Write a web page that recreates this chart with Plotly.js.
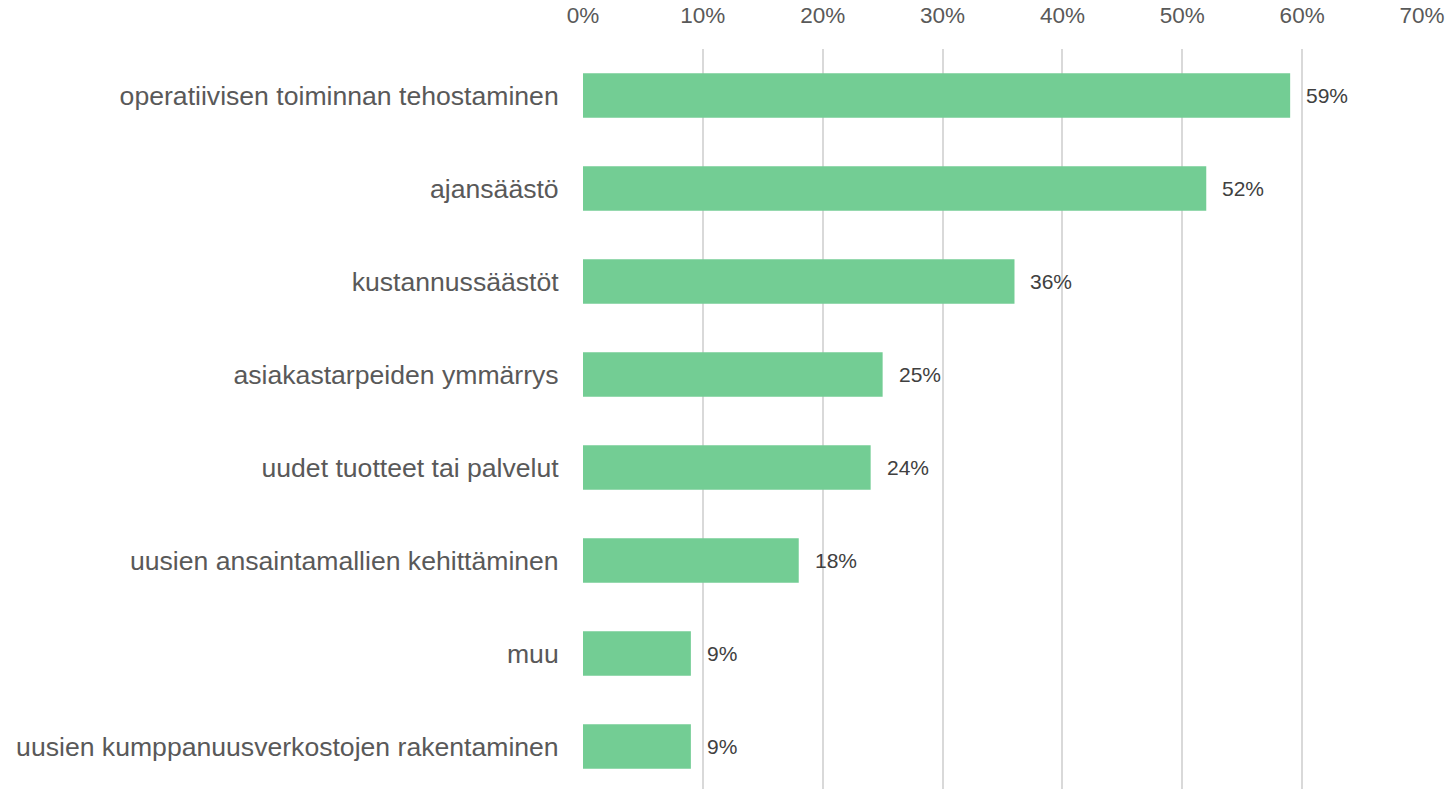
<!DOCTYPE html>
<html><head><meta charset="utf-8">
<script src="https://cdn.plot.ly/plotly-3.0.1.min.js"></script>
<style>html,body{margin:0;padding:0;background:#fff;}#chart{width:1450px;height:789px;}</style>
</head><body><div id="chart"></div>
<script>
const categories = [
  "operatiivisen toiminnan tehostaminen",
  "ajansäästö",
  "kustannussäästöt",
  "asiakastarpeiden ymmärrys",
  "uudet tuotteet tai palvelut",
  "uusien ansaintamallien kehittäminen",
  "muu",
  "uusien kumppanuusverkostojen rakentaminen"
];
const values = [0.59, 0.52, 0.36, 0.25, 0.24, 0.18, 0.09, 0.09];
const valueLabels = ["59%", "52%", "36%", "25%", "24%", "18%", "9%", "9%"];
const xTickVals = [0, 0.1, 0.2, 0.3, 0.4, 0.5, 0.6, 0.7];
const xTickText = ["0%", "10%", "20%", "30%", "40%", "50%", "60%", "70%"];

const trace = {
  type: 'bar', orientation: 'h',
  x: values, y: categories,
  width: 0.48,
  marker: {color: '#73cd94'},
  hoverinfo: 'none'
};
const annotations = values.map((v, i) => ({
  x: v, y: categories[i], xref: 'x', yref: 'y',
  text: valueLabels[i], showarrow: false,
  xanchor: 'left', yanchor: 'middle', xshift: 14,
  font: {family: 'Liberation Sans, Arial, sans-serif', size: 21, color: '#404040'}
}));
const layout = {
  width: 1450, height: 789,
  margin: {l: 583, r: 28, t: 49, b: 0, pad: 0},
  paper_bgcolor: '#fff', plot_bgcolor: '#fff',
  showlegend: false,
  font: {family: 'Liberation Sans, Arial, sans-serif', color: '#595959'},
  xaxis: {
    side: 'top', range: [0, 0.7], tickvals: xTickVals, ticktext: xTickText,
    showgrid: true, gridcolor: '#d9d9d9', gridwidth: 2,
    zeroline: false, showline: false,
    ticks: 'outside', ticklen: 16, tickcolor: 'rgba(0,0,0,0)',
    tickfont: {size: 22.5, color: '#595959'}, fixedrange: true
  },
  yaxis: {
    type: 'category', categoryorder: 'array', categoryarray: categories,
    range: [7.457, -0.5], showgrid: false, zeroline: false, showline: false,
    ticks: 'outside', ticklen: 18, tickcolor: 'rgba(0,0,0,0)',
    tickfont: {size: 26.6, color: '#595959'}, fixedrange: true
  },
  annotations: annotations
};
Plotly.newPlot('chart', [trace], layout, {displayModeBar: false, staticPlot: true});
</script></body></html>
